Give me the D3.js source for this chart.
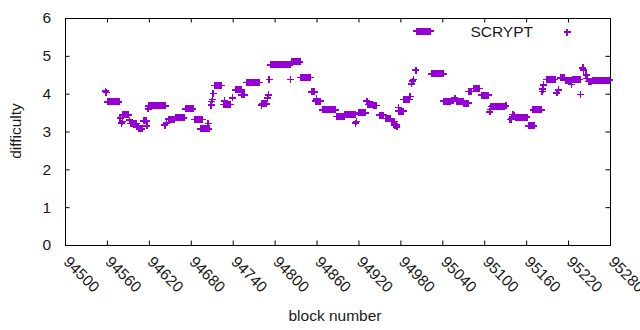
<!DOCTYPE html>
<html><head><meta charset="utf-8">
<script src="https://cdn.jsdelivr.net/npm/d3@7"></script>
<style>body{margin:0;background:#fff}svg{display:block}</style>
</head><body>
<svg id="chart" width="640" height="330"></svg>
<script>
const seriesName = "SCRYPT";
const xTicks = [94500, 94560, 94620, 94680, 94740, 94800, 94860, 94920, 94980, 95040, 95100, 95160, 95220, 95280];
const yTicks = [0, 1, 2, 3, 4, 5, 6];

const blockNumbers = [
  94558, 94559,
  94561, 94563, 94565, 94567, 94569, 94571, 94573, 94575, 94577,
  94579, 94581, 94582,
  94583, 94585, 94587, 94589, 94591,
  94592,
  94594, 94596, 94598, 94600, 94602,
  94603, 94605,
  94606, 94608, 94610,
  94612, 94614, 94616, 94617,
  94619,
  94620, 94622, 94624, 94626, 94628, 94630, 94632, 94634, 94636, 94638, 94640, 94642, 94644,
  94643, 94645,
  94648, 94650, 94652, 94654, 94656,
  94658, 94660, 94662, 94664, 94666, 94668, 94670,
  94673, 94675, 94677, 94679, 94681, 94683,
  94685, 94687, 94689, 94691, 94693, 94695, 94697,
  94694, 94696, 94698, 94700, 94702, 94704, 94706,
  94705,
  94709, 94710, 94711, 94712,
  94714, 94716, 94718, 94720, 94722, 94724,
  94727, 94728, 94729, 94731, 94733, 94735, 94737, 94740,
  94744, 94746, 94748, 94750, 94752,
  94753, 94755, 94757,
  94760, 94762, 94764, 94766, 94768, 94770, 94772, 94774, 94776, 94778,
  94781, 94782, 94784, 94786, 94788, 94790, 94791,
  94792,
  94794, 94796, 94798, 94800, 94802, 94804, 94806, 94808, 94810, 94812, 94814, 94816, 94818, 94820, 94822,
  94823,
  94824, 94826, 94828, 94830, 94832, 94834, 94836,
  94837, 94839, 94841, 94843, 94845, 94847, 94849, 94851,
  94853, 94855, 94857,
  94859, 94860, 94861, 94863, 94865,
  94869, 94871, 94873, 94875, 94877, 94879, 94881, 94883, 94885, 94887,
  94889, 94891, 94893, 94895, 94897, 94899,
  94901, 94903, 94905, 94907, 94909, 94911, 94913, 94915,
  94916, 94917,
  94920, 94922, 94924, 94926, 94928, 94930,
  94932, 94934, 94936, 94938, 94940, 94942, 94944, 94946,
  94950, 94952, 94954, 94956,
  94959, 94961, 94963, 94965,
  94967, 94969, 94971,
  94972, 94974, 94975,
  94977, 94978, 94980, 94982, 94984,
  94985, 94987, 94989, 94991, 94993,
  94994,
  94996, 94998, 94999, 95002,
  95003, 95005, 95007, 95009, 95011, 95013, 95015, 95017, 95019, 95021, 95023,
  95025, 95027, 95029, 95031, 95033, 95035, 95037, 95039, 95041,
  95042, 95044, 95046, 95048, 95050, 95052,
  95054, 95056, 95058,
  95060, 95062, 95064, 95066, 95068, 95070,
  95071, 95073, 95075, 95077,
  95078, 95080, 95082,
  95085, 95087, 95089, 95091, 95093,
  95096, 95098, 95100, 95102, 95104, 95106,
  95108, 95109,
  95110, 95112, 95114, 95116, 95118, 95120, 95122, 95124, 95126, 95128,
  95131,
  95137, 95139, 95141, 95143,
  95145, 95147, 95149, 95151, 95153, 95155, 95157, 95159, 95161,
  95163, 95165, 95167, 95169, 95171,
  95170, 95172, 95174, 95176, 95178, 95180, 95182,
  95183, 95184, 95185,
  95189, 95191, 95193, 95195, 95197, 95199, 95201,
  95204, 95206,
  95209, 95211, 95213, 95215,
  95216, 95218, 95220, 95222, 95224,
  95225,
  95227, 95229, 95231, 95233, 95235, 95237,
  95238,
  95241, 95242, 95246, 95247,
  95249, 95251, 95253,
  95255, 95257, 95259, 95261, 95263, 95265, 95267, 95269, 95271, 95273, 95275, 95277, 95279
];

const difficulty = [
  4.07, 4.03,
  3.78, 3.78, 3.78, 3.78, 3.78, 3.78, 3.78, 3.78, 3.78,
  3.36, 3.22, 3.27,
  3.44, 3.44, 3.44, 3.44, 3.44,
  3.30,
  3.21, 3.21, 3.21, 3.21, 3.21,
  3.12, 3.12,
  3.07, 3.07, 3.07,
  3.28, 3.28, 3.28, 3.15,
  3.60,
  3.68, 3.68, 3.68, 3.68, 3.68, 3.68, 3.68, 3.68, 3.68, 3.68, 3.68, 3.68, 3.68,
  3.17, 3.23,
  3.33, 3.33, 3.33, 3.33, 3.33,
  3.36, 3.36, 3.36, 3.36, 3.36, 3.36, 3.36,
  3.60, 3.60, 3.60, 3.60, 3.60, 3.60,
  3.32, 3.32, 3.32, 3.32, 3.32, 3.32, 3.32,
  3.07, 3.07, 3.07, 3.07, 3.07, 3.07, 3.07,
  3.21,
  3.70, 3.79, 3.84, 4.00,
  4.22, 4.22, 4.22, 4.22, 4.22, 4.22,
  3.72, 3.81, 3.72, 3.72, 3.72, 3.72, 3.72, 3.89,
  4.10, 4.10, 4.10, 4.10, 4.10,
  3.97, 3.97, 3.97,
  4.30, 4.30, 4.30, 4.30, 4.30, 4.30, 4.30, 4.30, 4.30, 4.30,
  3.70, 3.73, 3.73, 3.73, 3.73, 3.88, 3.97,
  4.38,
  4.76, 4.76, 4.76, 4.76, 4.76, 4.76, 4.76, 4.76, 4.76, 4.76, 4.76, 4.76, 4.76, 4.76, 4.76,
  4.38,
  4.84, 4.84, 4.84, 4.84, 4.84, 4.84, 4.84,
  4.43, 4.43, 4.43, 4.43, 4.43, 4.43, 4.43, 4.43,
  4.05, 4.05, 4.05,
  3.80, 3.86, 3.80, 3.80, 3.80,
  3.57, 3.57, 3.57, 3.57, 3.57, 3.57, 3.57, 3.57, 3.57, 3.57,
  3.39, 3.39, 3.39, 3.39, 3.39, 3.39,
  3.45, 3.45, 3.45, 3.45, 3.45, 3.45, 3.45, 3.45,
  3.22, 3.27,
  3.49, 3.49, 3.49, 3.49, 3.49, 3.49,
  3.80, 3.72, 3.72, 3.72, 3.72, 3.69, 3.69, 3.69,
  3.43, 3.43, 3.43, 3.43,
  3.35, 3.35, 3.35, 3.35,
  3.26, 3.26, 3.26,
  3.17, 3.17, 3.12,
  3.63, 3.54, 3.54, 3.54, 3.54,
  3.84, 3.84, 3.84, 3.84, 3.84,
  3.92,
  4.26, 4.33, 4.38, 4.62,
  5.65, 5.65, 5.65, 5.65, 5.65, 5.65, 5.65, 5.65, 5.65, 5.65, 5.65,
  4.52, 4.52, 4.52, 4.52, 4.52, 4.52, 4.52, 4.52, 4.52,
  3.80, 3.80, 3.80, 3.80, 3.80, 3.80,
  3.83, 3.83, 3.88,
  3.80, 3.80, 3.80, 3.80, 3.80, 3.80,
  3.75, 3.75, 3.75, 3.75,
  4.06, 4.06, 4.06,
  4.13, 4.13, 4.13, 4.13, 4.13,
  3.96, 3.96, 3.96, 3.96, 3.96, 3.96,
  3.52, 3.58,
  3.66, 3.67, 3.67, 3.67, 3.67, 3.67, 3.67, 3.67, 3.67, 3.67,
  3.68,
  3.32, 3.33, 3.45, 3.42,
  3.38, 3.38, 3.38, 3.38, 3.38, 3.38, 3.38, 3.38, 3.38,
  3.15, 3.15, 3.15, 3.15, 3.15,
  3.57, 3.57, 3.57, 3.57, 3.57, 3.57, 3.57,
  4.06, 4.12, 4.23,
  4.38, 4.38, 4.38, 4.38, 4.38, 4.38, 4.38,
  4.02, 4.10,
  4.42, 4.42, 4.42, 4.42,
  4.35, 4.35, 4.35, 4.35, 4.35,
  4.24,
  4.38, 4.38, 4.38, 4.38, 4.38, 4.38,
  3.98,
  4.68, 4.62, 4.50, 4.40,
  4.32, 4.32, 4.32,
  4.36, 4.36, 4.36, 4.36, 4.36, 4.36, 4.36, 4.36, 4.36, 4.36, 4.36, 4.36, 4.36
];

if (blockNumbers.length !== difficulty.length) console.error("length mismatch", blockNumbers.length, difficulty.length);

const color = "#9400d3";
const font = "'Liberation Sans', Arial, sans-serif";
const fs = 15.5;
const svg = d3.select("#chart").style("font-family", font);
const x = d3.scaleLinear().domain([94500, 95280]).range([65, 610]);
const y = d3.scaleLinear().domain([0, 6]).range([245, 18]);
const tk = 4.5;

// axes with inward ticks (mirrored)
const gB = svg.append("g").attr("transform", `translate(0,${y(0)})`)
  .call(d3.axisBottom(x).tickValues(xTicks).tickSizeInner(-tk).tickSizeOuter(0).tickFormat(d3.format("d")));
gB.selectAll("text")
  .attr("x", 0).attr("y", 0).attr("dy", "0.35em")
  .attr("transform", "translate(1,14) rotate(45)")
  .style("text-anchor", "start");
const gT = svg.append("g").attr("transform", `translate(0,${y(6)})`)
  .call(d3.axisTop(x).tickValues(xTicks).tickSizeInner(-tk).tickSizeOuter(0).tickFormat(""));
const gL = svg.append("g").attr("transform", `translate(${x(94500)},0)`)
  .call(d3.axisLeft(y).tickValues(yTicks).tickSizeInner(-tk).tickSizeOuter(0).tickPadding(14).tickFormat(d3.format("d")));
const gR = svg.append("g").attr("transform", `translate(${x(95280)},0)`)
  .call(d3.axisRight(y).tickValues(yTicks).tickSizeInner(-tk).tickSizeOuter(0).tickFormat(""));
[gB, gT, gL, gR].forEach(g => {
  g.select(".domain").remove();
  g.selectAll("line").attr("stroke", "#000");
  g.selectAll("text").attr("fill", "#1a1a1a").style("font-size", fs + "px").style("font-family", font);
});

// frame
svg.append("rect")
  .attr("x", x(94500)).attr("y", y(6))
  .attr("width", x(95280) - x(94500)).attr("height", y(0) - y(6))
  .attr("fill", "none").attr("stroke", "#000").attr("stroke-width", 1)
  .attr("shape-rendering", "crispEdges");

// points
const h = 3.5;
const plus = (cx, cy) => `M${cx - h},${cy}h${2 * h}M${cx},${cy - h}v${2 * h}`;
svg.append("g").attr("shape-rendering", "crispEdges").selectAll("path")
  .data(blockNumbers.map((b, i) => [b, difficulty[i]]))
  .join("path")
  .attr("d", d => plus(x(d[0]), y(d[1])))
  .attr("stroke", color).attr("stroke-width", 1.5).attr("fill", "none");

// legend
svg.append("text").attr("x", 533).attr("y", 32).attr("dy", "0.35em")
  .attr("text-anchor", "end").style("font-size", fs + "px").attr("fill", "#1a1a1a").text(seriesName);
svg.append("path").attr("d", plus(567, 32)).attr("stroke", color).attr("stroke-width", 1.5)
  .attr("shape-rendering", "crispEdges");

// axis titles
svg.append("text").attr("x", 335).attr("y", 321).attr("text-anchor", "middle")
  .style("font-size", fs + "px").attr("fill", "#1a1a1a").text("block number");
svg.append("text").attr("transform", "translate(21,131) rotate(-90)").attr("text-anchor", "middle")
  .style("font-size", fs + "px").attr("fill", "#1a1a1a").text("difficulty");
</script>
</body></html>
